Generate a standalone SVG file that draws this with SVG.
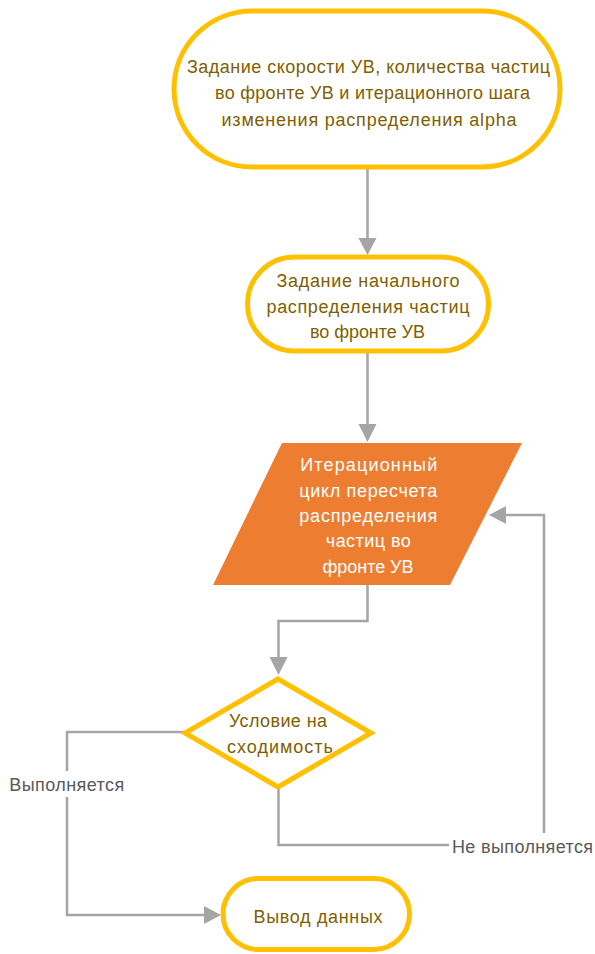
<svg xmlns="http://www.w3.org/2000/svg" width="595" height="954" viewBox="0 0 595 954">
  <style>
    .term { fill: #FFFFFF; stroke: #FFC000; stroke-width: 5; }
    .ntext { font-family: "Liberation Sans", Arial, sans-serif; font-size: 18px; fill: #7F6000; text-anchor: middle; }
    .wtext { font-family: "Liberation Sans", Arial, sans-serif; font-size: 18px; fill: #FFFFFF; text-anchor: middle; }
    .ltext { font-family: "Liberation Sans", Arial, sans-serif; font-size: 18px; fill: #595959; text-anchor: middle; }
    .conn { fill: none; stroke: #A5A5A5; stroke-width: 2.5; }
    .head { fill: #A5A5A5; }
  </style>
  <rect width="595" height="954" fill="#FFFFFF"/>

  <g id="connectors">
    <path class="conn" d="M367.5,167 V239"/>
    <polygon class="head" points="358.5,238 376.5,238 367.5,255"/>
    <path class="conn" d="M367.5,351 V425"/>
    <polygon class="head" points="358.5,424 376.5,424 367.5,442"/>
    <path class="conn" d="M367.5,585 V621 H278.5 V658"/>
    <polygon class="head" points="269.5,657 287.5,657 278.5,675"/>
    <path class="conn" d="M185,732 H67 V915 H205"/>
    <polygon class="head" points="204,906 204,924 221,915"/>
    <path class="conn" d="M278.5,787 V845 H544 V515 H505"/>
    <polygon class="head" points="506,506 506,524 489,515"/>
    <g id="label-yes">
      <rect x="8" y="771" width="118" height="26" fill="#FFFFFF"/>
      <text class="ltext" x="66.7" y="790.7" textLength="115">Выполняется</text>
    </g>
    <g id="label-no">
      <rect x="449" y="833" width="146" height="25" fill="#FFFFFF"/>
      <text class="ltext" x="522.5" y="852.7" textLength="141">Не выполняется</text>
    </g>
  </g>

  <g id="node-start">
    <rect class="term" x="174" y="11" width="386" height="156" rx="78" ry="78"/>
    <text class="ntext" x="368.5" y="72.5" textLength="363">Задание скорости УВ, количества частиц</text>
    <text class="ntext" x="372.5" y="99" textLength="315">во фронте УВ и итерационного шага</text>
    <text class="ntext" x="369" y="125.5" textLength="295">изменения распределения alpha</text>
  </g>

  <g id="node-init">
    <rect class="term" x="247.5" y="257" width="241" height="94" rx="47" ry="47"/>
    <text class="ntext" x="368" y="287" textLength="183">Задание начального</text>
    <text class="ntext" x="368" y="313" textLength="203">распределения частиц</text>
    <text class="ntext" x="367.5" y="338" textLength="115">во фронте УВ</text>
  </g>

  <g id="node-loop">
    <polygon points="282,443 522,443 450,585 213,585" fill="#ED7D31"/>
    <text class="wtext" x="368.7" y="471" textLength="137">Итерационный</text>
    <text class="wtext" x="368.3" y="496.7" textLength="138">цикл пересчета</text>
    <text class="wtext" x="368.3" y="521.7" textLength="138">распределения</text>
    <text class="wtext" x="368.3" y="546.7" textLength="85">частиц во</text>
    <text class="wtext" x="368" y="572.7" textLength="91">фронте УВ</text>
  </g>

  <g id="node-cond">
    <polygon class="term" points="278,679 371,733 278,787 185,733"/>
    <text class="ntext" x="278" y="726.7" textLength="98">Условие на</text>
    <text class="ntext" x="280" y="752.7" textLength="106">сходимость</text>
  </g>

  <g id="node-output">
    <rect class="term" x="223" y="878.5" width="186.5" height="71" rx="35.5" ry="35.5"/>
    <text class="ntext" x="318" y="923.3" textLength="129">Вывод данных</text>
  </g>
</svg>
